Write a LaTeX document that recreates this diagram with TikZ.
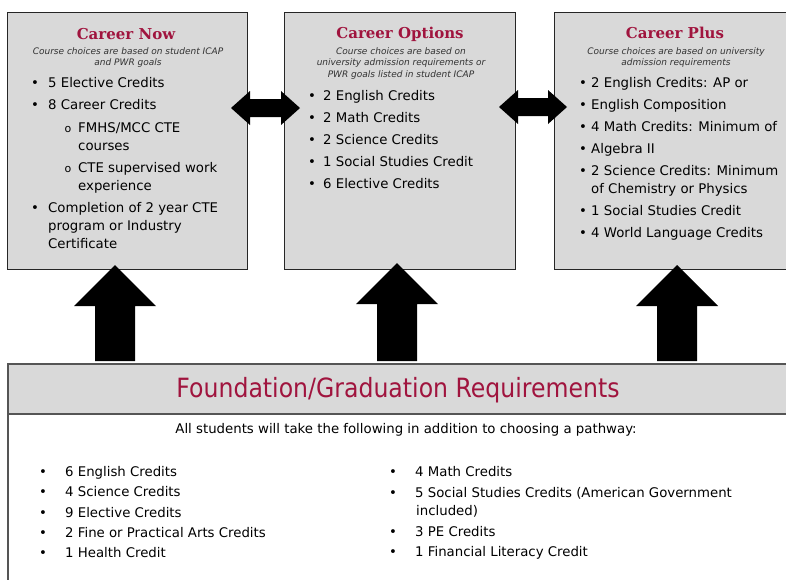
\documentclass[tikz,border=0pt]{standalone}
\usepackage{fontspec}
\setmainfont{DejaVu Sans}
\newfontfamily\ttlfamily{DejaVu Serif}
\newfontfamily\headfamily{DejaVu Sans}[FakeStretch=0.89]
\usetikzlibrary{calc}
\definecolor{boxgrey}{RGB}{217,217,217}
\definecolor{maroon}{RGB}{160,20,62}
\definecolor{edgegrey}{RGB}{85,85,85}
\tikzset{
  panel/.style={draw=black!85, fill=boxgrey, line width=0.8pt, inner sep=0pt},
  bandbox/.style={draw=edgegrey, fill=boxgrey, line width=1.5pt, inner sep=0pt},
  lowbox/.style={draw=edgegrey, fill=white, line width=1.5pt, inner sep=0pt},
  ttl/.style={anchor=base, inner sep=0pt, text=maroon, font=\ttlfamily\bfseries\fontsize{15}{18}\selectfont},
  subt/.style={anchor=base, inner sep=0pt, text=black!80, font=\itshape\fontsize{9}{11}\selectfont},
  txt/.style={anchor=base west, inner sep=0pt, font=\fontsize{13.3}{16}\selectfont},
  bul/.style={anchor=base, inner sep=0pt, font=\fontsize{13.3}{16}\selectfont},
  sbul/.style={anchor=base, inner sep=0pt, font=\fontsize{11}{13}\selectfont},
  lbul/.style={anchor=base, inner sep=0pt, font=\fontsize{13.3}{16}\selectfont},
  head/.style={anchor=base, inner sep=0pt, text=maroon, font=\headfamily\fontsize{26.5}{30}\selectfont},
}
\newcommand\blockup[2]{%
  \fill[black] ($(#1)+(-20,0)$) -- ($(#2)+(-20,41)$) -- ($(#2)+(-41,41)$) -- (#2)
    -- ($(#2)+(41,41)$) -- ($(#2)+(20,41)$) -- ($(#1)+(20,0)$) -- cycle;}
\newcommand\blockboth[2]{%
  \fill[black] (#1) -- ($(#1)+(19,-17)$) -- ($(#1)+(19,-9)$) -- ($(#2)+(-19,-9)$)
    -- ($(#2)+(-19,-17)$) -- (#2) -- ($(#2)+(-19,17)$) -- ($(#2)+(-19,9)$)
    -- ($(#1)+(19,9)$) -- ($(#1)+(19,17)$) -- cycle;}
\begin{document}
\begin{tikzpicture}[x=1pt,y=-1pt]
\useasboundingbox (0,0) rectangle (786,579);
\clip (0,0) rectangle (786,579);
\fill[white] (0,0) rectangle (786,579);

% panels
\node[panel, anchor=north west, minimum width=240pt, minimum height=257.5pt] (now) at (7,11.5) {};
\node[panel, anchor=north west, minimum width=231pt, minimum height=257.5pt] (opt) at (284,11.5) {};
\node[panel, anchor=north west, minimum width=242pt, minimum height=257.5pt] (plus) at (554,11.5) {};

% foundation
\node[lowbox, anchor=north west, minimum width=800pt, minimum height=200pt] (low) at (7,413) {};
\node[bandbox, anchor=north west, minimum width=800pt, minimum height=50pt] (band) at (7,363) {};
\node[head] (fh) at (398,397) {Foundation/Graduation Requirements};

% Career Now
\node[ttl] (t1) at (126,39) {Career Now};
\node[subt] (s1a) at (128,54) {Course choices are based on student ICAP};
\node[subt] (s1b) at (128,65) {and PWR goals};
\node[bul] (b1a) at (35,87) {•};   \node[txt] (x1a) at (48,87) {5 Elective Credits};
\node[bul] (b1b) at (35,109) {•};  \node[txt] (x1b) at (48,109) {8 Career Credits};
\node[sbul] (o1a) at (68,132) {o}; \node[txt] (x1c) at (78,132) {FMHS/MCC CTE};
\node[txt] (x1d) at (78,150) {courses};
\node[sbul] (o1b) at (68,172) {o}; \node[txt] (x1e) at (78,172) {CTE supervised work};
\node[txt] (x1f) at (78,190) {experience};
\node[bul] (b1c) at (35,212) {•};  \node[txt] (x1g) at (48,212) {Completion of 2 year CTE};
\node[txt] (x1h) at (48,230) {program or Industry};
\node[txt] (x1i) at (48,248) {Certificate};

% Career Options
\node[ttl] (t2) at (400,38.5) {Career Options};
\node[subt] (s2a) at (401,54) {Course choices are based on};
\node[subt] (s2b) at (401,65.5) {university admission requirements or};
\node[subt] (s2c) at (401,77) {PWR goals listed in student ICAP};
\node[bul] (b2a) at (312,100) {•}; \node[txt] (x2a) at (323,100) {2 English Credits};
\node[bul] (b2b) at (312,122) {•}; \node[txt] (x2b) at (323,122) {2 Math Credits};
\node[bul] (b2c) at (312,144) {•}; \node[txt] (x2c) at (323,144) {2 Science Credits};
\node[bul] (b2d) at (312,166) {•}; \node[txt] (x2d) at (323,166) {1 Social Studies Credit};
\node[bul] (b2e) at (312,188) {•}; \node[txt] (x2e) at (323,188) {6 Elective Credits};

% Career Plus
\node[ttl] (t3) at (675,38) {Career Plus};
\node[subt] (s3a) at (676,54) {Course choices are based on university};
\node[subt] (s3b) at (676,65) {admission requirements};
\node[bul] (b3a) at (583,87) {•};  \node[txt] (x3a) at (591,87) {2 English Credits: AP or};
\node[bul] (b3b) at (583,109) {•}; \node[txt] (x3b) at (591,109) {English Composition};
\node[bul] (b3c) at (583,131) {•}; \node[txt] (x3c) at (591,131) {4 Math Credits: Minimum of};
\node[bul] (b3d) at (583,153) {•}; \node[txt] (x3d) at (591,153) {Algebra II};
\node[bul] (b3e) at (583,175) {•}; \node[txt] (x3e) at (591,175) {2 Science Credits: Minimum};
\node[txt] (x3f) at (591,193) {of Chemistry or Physics};
\node[bul] (b3f) at (583,215) {•}; \node[txt] (x3g) at (591,215) {1 Social Studies Credit};
\node[bul] (b3g) at (583,237) {•}; \node[txt] (x3h) at (591,237) {4 World Language Credits};

% foundation text
\node[anchor=base, inner sep=0pt, font=\fontsize{13.3}{16}\selectfont] (all) at (406,433)
  {All students will take the following in addition to choosing a pathway:};
\node[lbul] (lb1) at (43,476) {•}; \node[txt] (l1) at (65,476) {6 English Credits};
\node[lbul] (lb2) at (43,496) {•}; \node[txt] (l2) at (65,496) {4 Science Credits};
\node[lbul] (lb3) at (43,517) {•}; \node[txt] (l3) at (65,517) {9 Elective Credits};
\node[lbul] (lb4) at (43,537) {•}; \node[txt] (l4) at (65,537) {2 Fine or Practical Arts Credits};
\node[lbul] (lb5) at (43,557) {•}; \node[txt] (l5) at (65,557) {1 Health Credit};
\node[lbul] (rb1) at (393,476) {•}; \node[txt] (r1) at (415,476) {4 Math Credits};
\node[lbul] (rb2) at (393,497) {•}; \node[txt] (r2) at (415,497) {5 Social Studies Credits (American Government};
\node[txt] (r2b) at (416,515) {included)};
\node[lbul] (rb3) at (393,536) {•}; \node[txt] (r3) at (415,536) {3 PE Credits};
\node[lbul] (rb4) at (393,556) {•}; \node[txt] (r4) at (415,556) {1 Financial Literacy Credit};

% block arrows
\coordinate (f1) at (115,361); \coordinate (p1) at (115,265);
\coordinate (f2) at (397,361); \coordinate (p2) at (397,263);
\coordinate (f3) at (677,361); \coordinate (p3) at (677,265);
\blockup{f1}{p1}
\blockup{f2}{p2}
\blockup{f3}{p3}
\coordinate (dl1) at (231,108); \coordinate (dr1) at (300,108);
\coordinate (dl2) at (499,107); \coordinate (dr2) at (567,107);
\blockboth{dl1}{dr1}
\blockboth{dl2}{dr2}
\end{tikzpicture}
\end{document}
